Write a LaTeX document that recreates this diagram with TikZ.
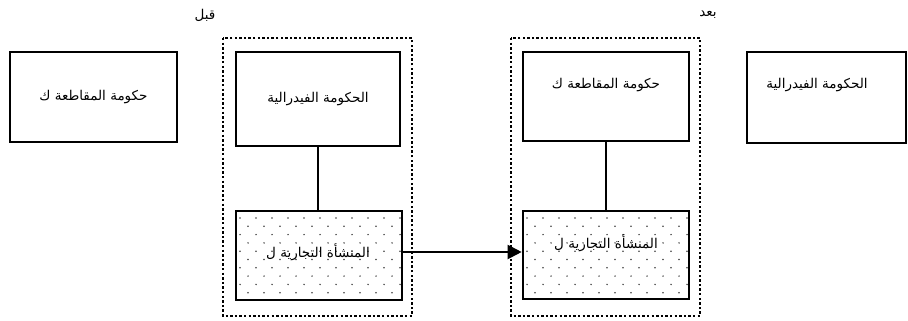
\documentclass[tikz,border=0pt]{standalone}
\usepackage{fontspec}
\TeXXeTstate=1
\newfontfamily\arabicfont[Script=Arabic]{DejaVu Sans}
\usetikzlibrary{arrows.meta}
\begin{document}
\begin{tikzpicture}[x=1pt,y=-1pt,
  box/.style={draw, line width=2.6pt, rectangle, inner sep=0pt, font=\fontsize{13.5}{15}\arabicfont},
  container/.style={draw, line width=2.4pt, dash pattern=on 2.4pt off 2.2pt},
  link/.style={line width=2pt},
  title/.style={font=\fontsize{13.5}{15}\arabicfont, inner sep=0pt},
  dotfill/.style={fill=black!75}
]
\useasboundingbox (0,0) rectangle (908,321);

% containers
\draw[container] (223,38) rectangle (412,316);
\draw[container] (511,38) rectangle (700,316);

% titles
\node[title] (before) at (205,15) {\beginR قبل\endR};
\node[title] (after) at (708,15) {\beginR بعد\endR};

% top boxes
\node[box, minimum width=167pt, minimum height=90pt] (provL) at (93.5,97) {\beginR حكومة المقاطعة ك\endR};
\node[box, minimum width=164pt, minimum height=94pt] (fedL) at (318,99) {\beginR الحكومة الفيدرالية\endR};
\node[box, minimum width=166pt, minimum height=89pt] (provR) at (606,96.5) {};
\node[title] (provRtxt) at (606,85) {\beginR حكومة المقاطعة ك\endR};
\node[box, minimum width=159pt, minimum height=91pt] (fedR) at (826.5,97.5) {};
\node[title] (fedRtxt) at (817,85) {\beginR الحكومة الفيدرالية\endR};

% dot patterns of business boxes
\begin{scope}
  \clip (236,211) rectangle (402,300);
  \foreach \j in {0,...,10} {
    \pgfmathsetmacro{\yy}{218+8.3*\j}
    \pgfmathsetmacro{\off}{mod(\j,2)*8}
    \foreach \i in {0,...,10} {
      \fill[dotfill] ({240+\off+16*\i},\yy) circle (0.85pt);
    }
  }
\end{scope}
\begin{scope}
  \clip (523,211) rectangle (689,299);
  \foreach \j in {0,...,10} {
    \pgfmathsetmacro{\yy}{218+8.3*\j}
    \pgfmathsetmacro{\off}{mod(\j,2)*8}
    \foreach \i in {0,...,10} {
      \fill[dotfill] ({527+\off+16*\i},\yy) circle (0.85pt);
    }
  }
\end{scope}

% business boxes
\node[box, minimum width=166pt, minimum height=89pt] (bizL) at (319,255.5) {};
\node[box, minimum width=166pt, minimum height=88pt] (bizR) at (606,255) {};
\node[title] (bizLtxt) at (318,252) {\beginR المنشأة التجارية ل\endR};
\node[title] (bizRtxt) at (606,243) {\beginR المنشأة التجارية ل\endR};

% connectors
\draw[link] (fedL.south) -- (bizL.north -| fedL.south);
\draw[link] (provR.south) -- (bizR.north);
\draw[link, -{Triangle[length=14pt,width=14pt]}] (bizL.east |- 0,252) -- (bizR.west |- 0,252);
\end{tikzpicture}
\end{document}
